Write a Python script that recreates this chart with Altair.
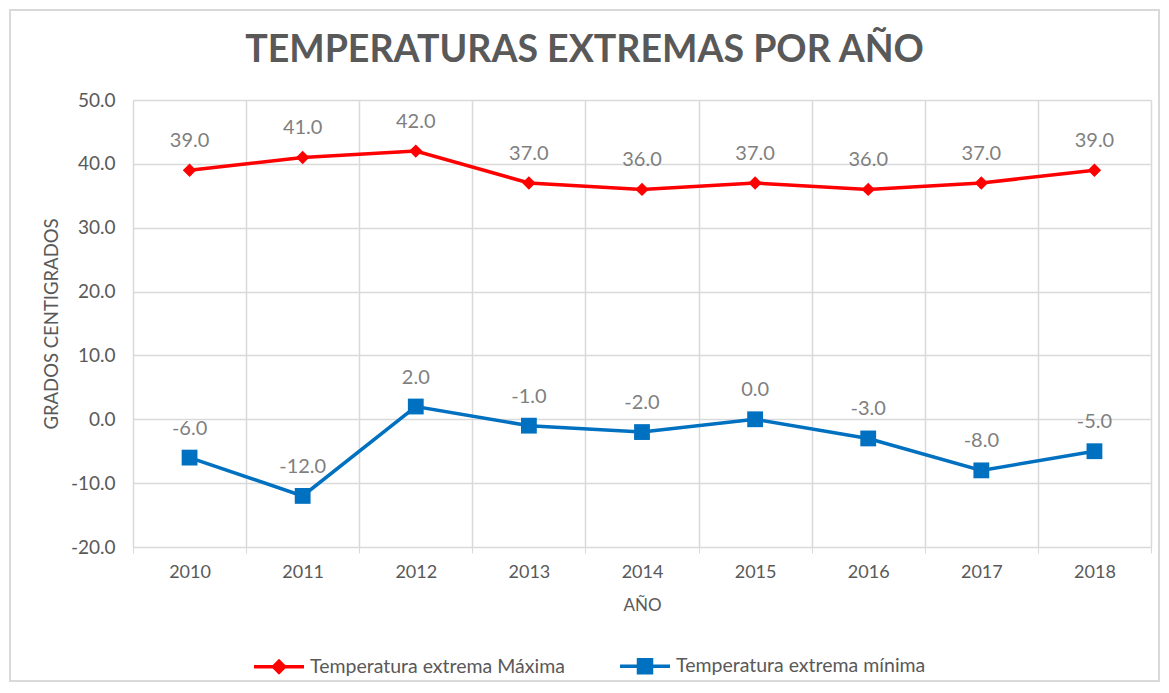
import altair as alt
import pandas as pd

years = ["2010", "2011", "2012", "2013", "2014", "2015", "2016", "2017", "2018"]
t_max = [39, 41, 42, 37, 36, 37, 36, 37, 39]
t_min = [-6, -12, 2, -1, -2, 0, -3, -8, -5]
series_names = ["Temperatura extrema Máxima", "Temperatura extrema mínima"]
series_colors = ["#FF0000", "#0070C0"]
legend_paths = [
    "M-1,0L1,0M0,-0.22L0.22,0L0,0.22L-0.22,0Z",
    "M-1,0L1,0M-0.26,-0.26L0.26,-0.26L0.26,0.26L-0.26,0.26Z",
]

rows = []
for y, v in zip(years, t_max):
    rows.append({"Año": y, "Valor": v, "Serie": series_names[0]})
for y, v in zip(years, t_min):
    rows.append({"Año": y, "Valor": v, "Serie": series_names[1]})
df = pd.DataFrame(rows)

FONT = "Lato"
GRAY = "#595959"
GRID = "#d9d9d9"

x_enc = alt.X(
    "Año:O",
    sort=years,
    scale=alt.Scale(type="band", paddingInner=0, paddingOuter=0),
    axis=alt.Axis(
        title="AÑO",
        labelAngle=0,
        tickBand="extent",
        grid=True,
        gridColor=GRID,
        gridWidth=1.5,
        domain=False,
        ticks=True,
        tickColor=GRID,
        tickSize=6,
        labelFontSize=18,
        labelColor=GRAY,
        labelFont=FONT,
        labelPadding=10,
        titleFont=FONT,
        titleFontSize=17,
        titleFontWeight="normal",
        titleColor=GRAY,
        titlePadding=16,
    ),
)
y_enc = alt.Y(
    "Valor:Q",
    scale=alt.Scale(domain=[-20, 50], nice=False, zero=False),
    axis=alt.Axis(
        title="GRADOS CENTIGRADOS",
        values=[-20, -10, 0, 10, 20, 30, 40, 50],
        labelExpr="replace(format(datum.value, '.1f'), '\u2212', '-')",
        grid=True,
        gridColor=GRID,
        gridWidth=1.5,
        domain=False,
        ticks=False,
        labelFontSize=19,
        labelColor=GRAY,
        labelFont=FONT,
        labelPadding=18,
        titleFont=FONT,
        titleFontSize=18.5,
        titleFontWeight="normal",
        titleColor=GRAY,
        titlePadding=9,
    ),
)

color_scale = alt.Scale(domain=series_names, range=series_colors)

leg = alt.Legend(
    title=None,
    orient="none",
    legendX=119,
    legendY=539,
    padding=0,
    direction="horizontal",
    symbolSize=2500,
    symbolStrokeWidth=3.5,
    labelFont=FONT,
    labelFontSize=19.5,
    labelColor=GRAY,
    labelOffset=4,
    columnPadding=48,
    labelLimit=400,
)

lines = alt.Chart(df).mark_line(strokeWidth=3.5).encode(
    x=x_enc,
    y=y_enc,
    color=alt.Color("Serie:N", scale=color_scale, legend=leg),
)

legend_layer = alt.Chart(df).mark_point(
    filled=True, size=1, opacity=1
).encode(
    x=alt.X("Año:O", sort=years),
    y="Valor:Q",
    color=alt.Color("Serie:N", scale=color_scale, legend=leg),
    shape=alt.Shape("Serie:N", scale=alt.Scale(domain=series_names, range=legend_paths), legend=leg),
)

pts_max = alt.Chart(df).transform_filter(
    alt.datum.Serie == series_names[0]
).mark_point(shape="diamond", filled=True, size=180, opacity=1, color=series_colors[0]).encode(
    x=alt.X("Año:O", sort=years), y="Valor:Q"
)
pts_min = alt.Chart(df).transform_filter(
    alt.datum.Serie == series_names[1]
).mark_point(shape="square", filled=True, size=250, opacity=1, color=series_colors[1]).encode(
    x=alt.X("Año:O", sort=years), y="Valor:Q"
)

labels = alt.Chart(df).transform_calculate(
    etiqueta="replace(format(datum.Valor, '.1f'), '\u2212', '-')"
).mark_text(
    dy=-29, fontSize=20, font=FONT, color="#7f7f7f"
).encode(
    x=alt.X("Año:O", sort=years),
    y="Valor:Q",
    text="etiqueta:N",
)

frame = alt.Chart(pd.DataFrame({"k": [0]})).mark_rect(
    fill="transparent", stroke=GRID, strokeWidth=2
).encode(
    x=alt.value(-123), x2=alt.value(1026), y=alt.value(-90), y2=alt.value(581)
)

chart = alt.layer(frame, lines, legend_layer, pts_max, pts_min, labels).properties(
    width=1018,
    height=447,
    autosize=alt.AutoSizeParams(type="none"),
    padding={"left": 125, "top": 92, "right": 10, "bottom": 136},
    title=alt.TitleParams(
        "TEMPERATURAS EXTREMAS POR AÑO",
        font=FONT,
        fontSize=37.5,
        fontWeight="bold",
        color=GRAY,
        anchor="middle",
        frame="bounds",
        offset=-60,
    ),
).configure_view(
    stroke=GRID, strokeWidth=1.5
).configure(background="white")

chart.save("out.html", embed_options={"renderer": "svg", "actions": False})
